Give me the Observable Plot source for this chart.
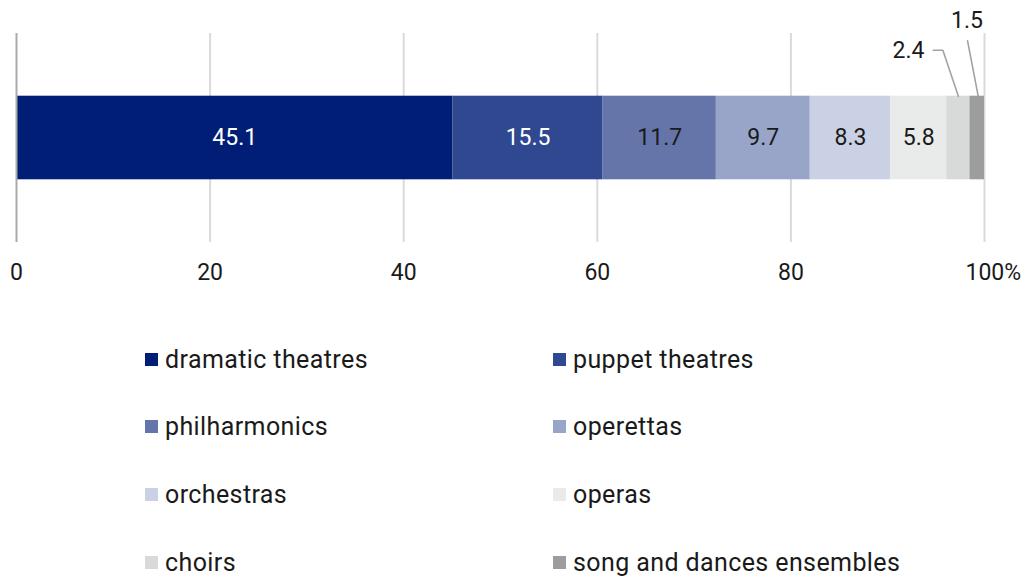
<!DOCTYPE html>
<html>
<head>
<meta charset="utf-8">
<script src="https://cdn.jsdelivr.net/npm/d3@7"></script>
<script src="https://cdn.jsdelivr.net/npm/@observablehq/plot@0.6"></script>
<style>
  body { margin: 0; background: #fff; }
  #wrap { position: relative; width: 1027px; height: 579px; font-family: Roboto, "Noto Sans", sans-serif; color: #1a1a1a; }
  .lg { position: absolute; display: flex; align-items: center; font-size: 25px; letter-spacing: 0.4px; white-space: nowrap; }
  .sw { width: 13px; height: 13px; margin-right: 7px; }
</style>
</head>
<body>
<div id="wrap"><div id="chart"></div></div>
<script>
const categories = ["dramatic theatres", "puppet theatres", "philharmonics", "operettas", "orchestras", "operas", "choirs", "song and dances ensembles"];
const values = [45.1, 15.5, 11.7, 9.7, 8.3, 5.8, 2.4, 1.5];
const colors = ["#001e76", "#2f4890", "#6575aa", "#98a5c8", "#cbd1e4", "#e9ebea", "#d7dad9", "#9c9d9c"];
const labelColors = ["#ffffff", "#ffffff", "#1a1a1a", "#1a1a1a", "#1a1a1a", "#1a1a1a", "#1a1a1a", "#1a1a1a"];
const ticks = [0, 20, 40, 60, 80, 100];

let acc = 0;
const data = categories.map((c, i) => {
  const x1 = acc; acc += values[i];
  return { category: c, value: values[i], x1, x2: acc, mid: (x1 + acc) / 2, labelColor: labelColors[i] };
});
const inside = data.filter(d => d.value >= 5);
const choir = data[6], song = data[7];
const leaders = [
  { k: "a", x: choir.mid, y: 0.7 }, { k: "a", x: choir.mid - 1.6, y: 0.92 }, { k: "a", x: choir.mid - 2.6, y: 0.92 },
  { k: "b", x: song.mid + 0.1, y: 0.7 }, { k: "b", x: song.mid - 1.0, y: 0.965 }
];
const fs = 23;

const chart = Plot.plot({
  width: 1027, height: 300,
  marginLeft: 16, marginRight: 43, marginTop: 33, marginBottom: 58,
  style: { fontFamily: "Roboto, 'Noto Sans', sans-serif", color: "#1a1a1a", background: "transparent" },
  x: { domain: [0, 100], axis: null },
  y: { domain: [0, 1], axis: null },
  marks: [
    Plot.ruleX(ticks.filter(t => t > 0), { x: d => d, stroke: "#dadada", strokeWidth: 2 }),
    Plot.rectX(data, { x1: "x1", x2: "x2", y1: 0.3, y2: 0.7, fill: d => colors[categories.indexOf(d.category)] }),
    Plot.ruleX([0], { x: d => d, stroke: "#aaaaaa", strokeWidth: 2 }),
    Plot.text(inside, { x: "mid", y: 0.5, text: d => d.value.toFixed(1), fill: "labelColor", fontSize: fs }),
    Plot.line(leaders, { x: "x", y: "y", z: "k", stroke: "#a3a3a3", strokeWidth: 1.6 }),
    Plot.text([choir], { x: d => d.mid - 3.5, y: 0.92, text: d => d.value.toFixed(1), textAnchor: "end", fontSize: fs, fill: "#1a1a1a" }),
    Plot.text([song], { x: d => d.mid - 1.05, y: 1.062, text: d => d.value.toFixed(1), fontSize: fs, fill: "#1a1a1a" }),
    Plot.text(ticks.filter(t => t < 100), { x: d => d, text: d => String(d), frameAnchor: "bottom", dy: 30, lineAnchor: "middle", fontSize: fs, fill: "#1a1a1a" }),
    Plot.text([100], { x: d => d, text: d => d + "%", frameAnchor: "bottom", dy: 30, dx: -19, textAnchor: "start", lineAnchor: "middle", fontSize: fs, fill: "#1a1a1a" })
  ]
});
document.getElementById("chart").appendChild(chart);

const wrap = document.getElementById("wrap");
categories.forEach((c, i) => {
  const col = i % 2, row = Math.floor(i / 2);
  const el = document.createElement("div");
  el.className = "lg";
  el.style.left = (col === 0 ? 145 : 553) + "px";
  el.style.top = (359 + row * 67.7 - 17) + "px";
  el.style.height = "34px";
  el.innerHTML = `<span class="sw" style="background:${colors[i]}"></span><span>${c}</span>`;
  wrap.appendChild(el);
});
</script>
</body>
</html>
